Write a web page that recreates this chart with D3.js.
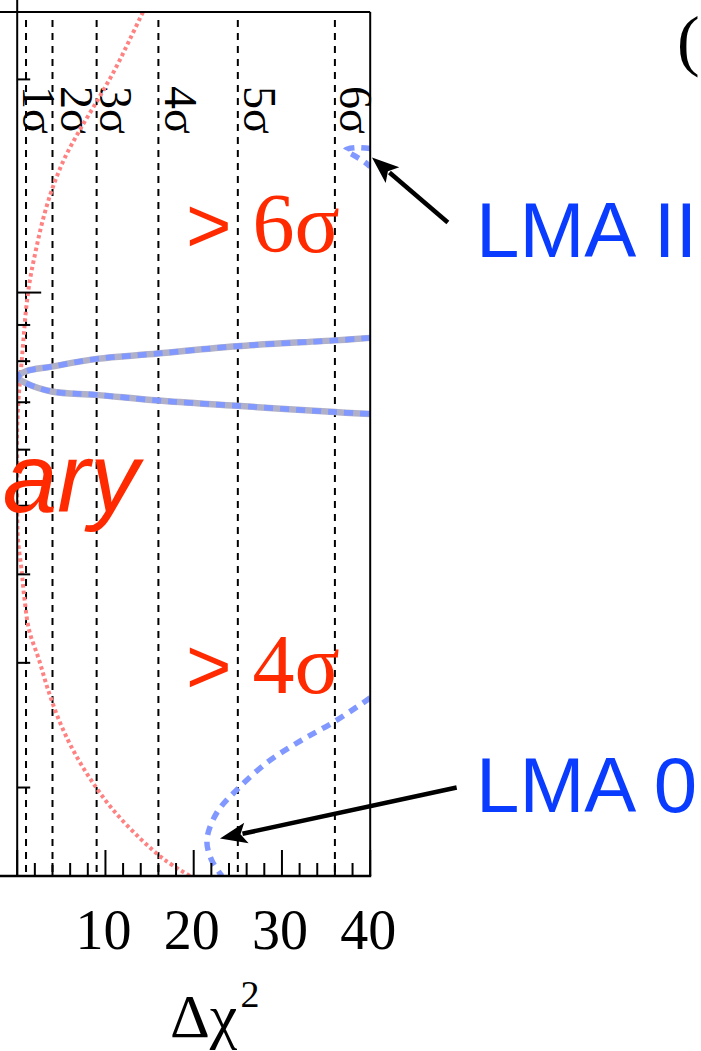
<!DOCTYPE html>
<html>
<head>
<meta charset="utf-8">
<script src="https://cdn.jsdelivr.net/npm/d3@7"></script>
<style>
  html, body { margin: 0; padding: 0; background: #fff; }
  svg { display: block; }
</style>
</head>
<body>
<div id="chart"></div>
<script>
// ---------------- DATA ----------------
// Δm² values in units of 1e-5 eV² (log axis), Δχ² on the horizontal axis
const xTickMinor = [0, 2, 4, 6, 8, 10, 12, 14, 16, 18, 20, 22, 24, 26, 28, 30, 32, 34, 36, 38, 40];
const xTickLabels = [10, 20, 30, 40];
const yTickMinor = [2, 3, 4, 5, 6, 7, 8, 9, 20];
const yTickMajor = [10];

const sigmaValues = [1, 4, 9, 16, 25, 36];
const sigmaLabels = ["1σ", "2σ", "3σ", "4σ", "5σ", "6σ"];

// red dotted curve (Preliminary)
const redDm  = [24.9, 22.8, 20.65, 18.74, 16.99, 15.41, 13.98, 12.68, 11.50, 10.43, 9.46, 8.58, 7.79, 7.06, 6.40, 5.62, 4.94, 4.48, 4.06, 3.69, 3.34, 3.03, 2.75, 2.49, 2.26, 2.05, 1.86, 1.69, 1.58, 1.50];
const redChi = [14.25, 12.78, 11.07, 9.16, 7.12, 5.30, 3.94, 2.92, 2.13, 1.45, 1.00, 0.71, 0.43, 0.15, 0.0, 0.0, 0.0, 0.09, 0.49, 0.83, 1.34, 2.47, 3.49, 4.74, 6.32, 8.36, 10.86, 14.03, 16.74, 19.58];

// LMA I (blue dashed over grey solid)
const lma1Dm  = [8.63, 8.56, 8.40, 8.20, 8.06, 7.86, 7.74, 7.59, 7.45, 7.25, 7.17, 7.04, 6.92, 6.78, 6.74];
const lma1Chi = [40, 36.0, 24.9, 15.9, 9.0, 3.9, 1.0, 0, 1.0, 3.9, 9.0, 15.9, 24.9, 36.0, 40];

// LMA 0
const lma0Dm  = [2.677, 2.480, 2.324, 2.169, 1.986, 1.841, 1.688, 1.582, 1.50];
const lma0Chi = [40, 36.0, 32.0, 28.3, 24.9, 22.6, 21.5, 22.0, 23.2];

// LMA II
const lma2Dm  = [15.97, 16.02, 15.89, 15.61, 15.31, 15.06];
const lma2Chi = [40, 38.5, 37.2, 38.2, 39.3, 40];

// annotations: [tailChi, tailDm, tipChi, tipDm]
const arrowLMA2 = [48.8, 12.56, 40.2, 15.51];
const arrowLMA0 = [49.8, 2.00, 22.98, 1.694];

// ---------------- LAYOUT ----------------
const W = 701, H = 1051;
const L = 17.2, R = 370.2, T = 12, B = 876;
const sigmaDx = [-3, 8, 3, 7, 6, 5];

const svg = d3.select("#chart").append("svg").attr("width", W).attr("height", H);

const x = d3.scaleLinear().domain([0, 40]).range([L, R]);
const y = d3.scaleLog().domain([1.5, 24.9]).range([B, T]);

const serif = "'Liberation Serif','Times New Roman',Times,serif";
const sans = "'Liberation Sans',Arial,Helvetica,sans-serif";

svg.append("defs").append("clipPath").attr("id", "plotclip")
  .append("rect").attr("x", L).attr("y", T).attr("width", R - L).attr("height", B - T);

// sigma dashed lines
svg.append("g").selectAll("line").data(sigmaValues).join("line")
  .attr("x1", d => x(d)).attr("x2", d => x(d))
  .attr("y1", T + 8).attr("y2", B)
  .attr("stroke", "#000").attr("stroke-width", 2)
  .attr("stroke-dasharray", "7,6");

// sigma labels (rotated)
svg.append("g").selectAll("text").data(sigmaValues).join("text")
  .attr("transform", (d, i) => `translate(${x(d) + sigmaDx[i]},86) rotate(90)`)
  .attr("font-family", serif).attr("font-size", 46).attr("fill", "#000")
  .text((d, i) => sigmaLabels[i]);

const plot = svg.append("g").attr("clip-path", "url(#plotclip)");
const mk = (dm, chi) => dm.map((d, i) => ({ dm: d, chi: chi[i] }));
const line = d3.line().x(d => x(d.chi)).y(d => y(d.dm)).curve(d3.curveCatmullRom.alpha(0.5));

// red dotted
plot.append("path").datum(mk(redDm, redChi)).attr("d", line)
  .attr("fill", "none").attr("stroke", "#ff8282").attr("stroke-width", 4)
  .attr("stroke-dasharray", "3.5,3");

// grey solid under LMA I
plot.append("path").datum(mk(lma1Dm, lma1Chi)).attr("d", line)
  .attr("fill", "none").attr("stroke", "#b0b0c8").attr("stroke-width", 6.5);
// blue dashed curves
[[lma1Dm, lma1Chi], [lma0Dm, lma0Chi], [lma2Dm, lma2Chi]].forEach(([dm, chi]) => {
  plot.append("path").datum(mk(dm, chi)).attr("d", line)
    .attr("fill", "none").attr("stroke", "#8098ff").attr("stroke-width", 5.5)
    .attr("stroke-dasharray", "9,7");
});

// frame
const frame = svg.append("g").attr("stroke", "#000").attr("stroke-width", 2).attr("fill", "none");
frame.append("line").attr("x1", 0).attr("x2", R).attr("y1", T).attr("y2", T);
frame.append("line").attr("x1", L).attr("x2", L).attr("y1", 0).attr("y2", B);
frame.append("line").attr("x1", R).attr("x2", R).attr("y1", T).attr("y2", B);
frame.append("line").attr("x1", 0).attr("x2", R + 1).attr("y1", B).attr("y2", B).attr("stroke-width", 2.6);

// x ticks
svg.append("g").selectAll("line").data(xTickMinor).join("line")
  .attr("x1", d => x(d)).attr("x2", d => x(d))
  .attr("y1", B).attr("y2", d => B - (d % 10 === 0 ? 26 : 13))
  .attr("stroke", "#000").attr("stroke-width", 2);
// y ticks
svg.append("g").selectAll("line").data(yTickMinor.concat(yTickMajor)).join("line")
  .attr("x1", L).attr("x2", d => L + (yTickMajor.includes(d) ? 24 : 13))
  .attr("y1", d => y(d)).attr("y2", d => y(d))
  .attr("stroke", "#000").attr("stroke-width", 2);

// x tick labels
svg.append("g").selectAll("text").data(xTickLabels).join("text")
  .attr("x", d => x(d) - 2).attr("y", 949)
  .attr("text-anchor", "middle").attr("font-family", serif).attr("font-size", 56)
  .attr("fill", "#000").text(d => d);

// axis title
const title = svg.append("text").attr("x", 170).attr("y", 1037)
  .attr("font-family", serif).attr("font-size", 62).attr("fill", "#000");
title.append("tspan").text("Δχ");
title.append("tspan").attr("dx", 3).attr("dy", -30).attr("font-size", 38).text("2");

// red texts
function redSigma(yy, label) {
  const t = svg.append("text").attr("x", 186).attr("y", yy).attr("font-family", serif)
    .attr("font-size", 84).attr("fill", "#ff2a00");
  t.append("tspan").attr("font-family", sans).attr("font-size", 78).text(">");
  t.append("tspan").text(" " + label);
}
redSigma(252, "6σ");
redSigma(693, "4σ");
svg.append("text").attr("x", 139).attr("y", 512).attr("text-anchor", "end")
  .attr("font-family", sans).attr("font-style", "italic")
  .attr("font-size", 98).attr("fill", "#ff2a00").text("ary");

// panel letter (cropped)
svg.append("text").attr("x", 677).attr("y", 63).attr("font-family", serif)
  .attr("font-size", 68).attr("fill", "#000").text("(");

// arrows
function arrow(a) {
  const x0 = x(a[0]), y0 = y(a[1]), x1 = x(a[2]), y1 = y(a[3]);
  const dx = x1 - x0, dy = y1 - y0, len = Math.hypot(dx, dy);
  const ux = dx / len, uy = dy / len, hl = 27, hw = 10.5;
  const bx = x1 - ux * hl, by = y1 - uy * hl;
  svg.append("line").attr("x1", x0).attr("y1", y0).attr("x2", bx + ux * 4).attr("y2", by + uy * 4)
    .attr("stroke", "#000").attr("stroke-width", 4.5);
  svg.append("path")
    .attr("d", `M${x1},${y1}L${bx - uy * hw},${by + ux * hw}L${bx + ux * 6},${by + uy * 6}L${bx + uy * hw},${by - ux * hw}Z`)
    .attr("fill", "#000");
}
arrow(arrowLMA2);
arrow(arrowLMA0);

// blue labels
svg.append("text").attr("x", 476).attr("y", 257).attr("font-family", sans)
  .attr("font-size", 78).attr("fill", "#0a3cff").text("LMA II");
svg.append("text").attr("x", 476).attr("y", 812).attr("font-family", sans)
  .attr("font-size", 78).attr("fill", "#0a3cff").text("LMA 0");
</script>
</body>
</html>
